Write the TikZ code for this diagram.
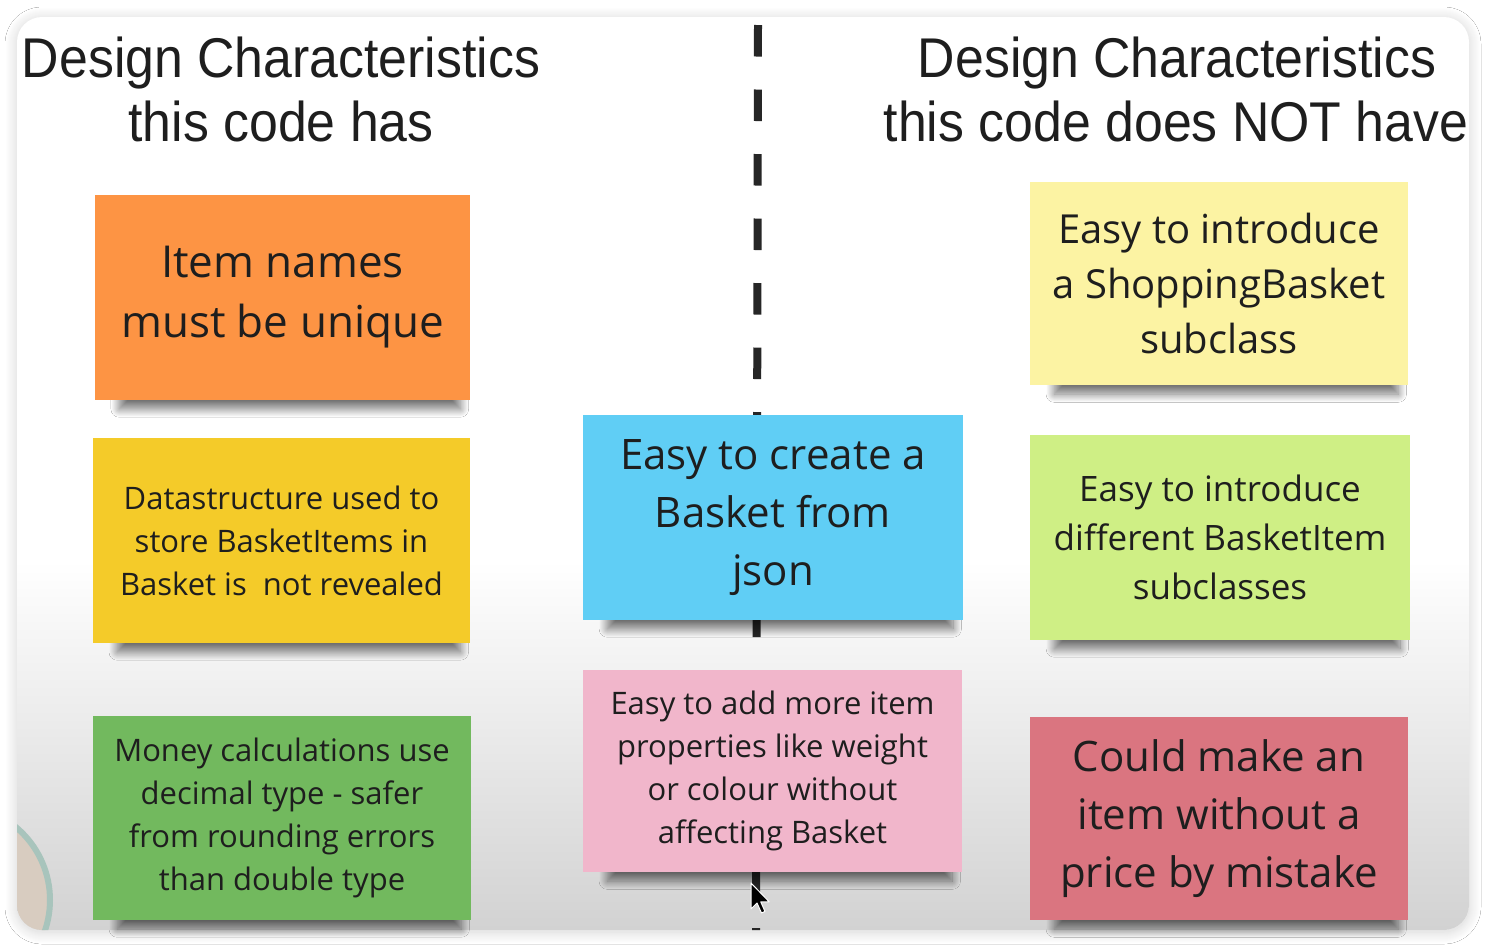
\documentclass[tikz,border=0pt]{standalone}
\usepackage{fontspec}
\setmainfont{Open Sans}
\newfontfamily\headfont[FakeStretch=0.925]{Liberation Sans}
\usetikzlibrary{shadows.blur}

\definecolor{ink}{HTML}{1E1E1E}
\definecolor{dashink}{HTML}{262626}
\definecolor{noteorange}{HTML}{FD9444}
\definecolor{notegold}{HTML}{F4CB29}
\definecolor{notegreen}{HTML}{72B95E}
\definecolor{noteblue}{HTML}{60CEF5}
\definecolor{notepink}{HTML}{F1B6CB}
\definecolor{notecream}{HTML}{FCF3A3}
\definecolor{notelime}{HTML}{CFEF85}
\definecolor{notered}{HTML}{DA7580}
\definecolor{floorgray}{HTML}{D2D2D2}
\definecolor{thumbfill}{HTML}{D8CCC0}
\definecolor{thumbring}{HTML}{A8C4BC}

\tikzset{
  heading/.style={inner sep=0pt, text=ink, font=\headfont\fontsize{56}{64}\selectfont},
  note/.style={rectangle, inner sep=0pt, text=ink, align=center,
    blur shadow={shadow xshift=8pt, shadow yshift=-20pt, shadow scale=0.91,
      shadow blur radius=9pt, shadow blur steps=25, shadow opacity=55}},
  divider/.style={line width=8pt, dashink, dash pattern=on 31.5pt off 33pt},
}

\begin{document}
\begin{tikzpicture}[x=1pt, y=-1pt]
\useasboundingbox (0,0) rectangle (1486,946);
\fill[white] (0,0) rectangle (1486,946);

% card with soft shadow
\fill[white, rounded corners=25pt,
  blur shadow={shadow xshift=0pt, shadow yshift=-2pt, shadow blur radius=12pt,
    shadow blur steps=25, shadow opacity=18}]
  (17,17) rectangle (1469,930);
\begin{scope}
  \clip[rounded corners=25pt] (17,17) rectangle (1469,930);
  \shade[top color=white, bottom color=floorgray] (17,560) rectangle (1469,930);
  % round thumbnail in the lower left corner
  \fill[thumbfill] (-45,900) circle[radius=95];
  \draw[line width=6pt, thumbring] (-45,900) circle[radius=95];
\end{scope}

% headings
\node[heading, anchor=base] (hl1) at (281,77) {Design Characteristics};
\node[heading, anchor=base] (hl2) at (281,141) {this code has};
\node[heading, anchor=base] (hr1) at (1177,77) {Design Characteristics};
\node[heading, anchor=base] (hr2) at (1176,141) {this code does NOT have};

% dashed divider
\coordinate (dtop) at (758,25);
\coordinate (dbot) at (756,930);
\draw[divider] (dtop) -- (dbot);

% left column
\node[note, fill=noteorange, minimum width=375pt, minimum height=205pt,
  font=\fontsize{44}{60}\selectfont] (unique) at (282.5,297.5)
  {Item names\\must be unique};
\node[note, fill=notegold, minimum width=377pt, minimum height=205pt,
  font=\fontsize{31}{43}\selectfont] (hidden) at (281.5,540.5)
  {Datastructure used to\\store BasketItems in\\Basket is\ \ not revealed};
\node[note, fill=notegreen, minimum width=378pt, minimum height=204pt,
  font=\fontsize{31}{43}\selectfont] (money) at (282,818)
  {Money calculations use\\decimal type - safer\\from rounding errors\\than double type};

% middle column
\node[note, fill=noteblue, minimum width=380pt, minimum height=205pt,
  font=\fontsize{42}{58}\selectfont] (json) at (773,517.5)
  {Easy to create a\\Basket from\\json};
\node[note, fill=notepink, minimum width=379pt, minimum height=202pt,
  font=\fontsize{31}{43}\selectfont] (props) at (772.5,771)
  {Easy to add more item\\properties like weight\\or colour without\\affecting Basket};

% right column
\node[note, fill=notecream, minimum width=378pt, minimum height=203pt,
  font=\fontsize{40}{55}\selectfont] (subbasket) at (1219,283.5)
  {Easy to introduce\\a ShoppingBasket\\subclass};
\node[note, fill=notelime, minimum width=380pt, minimum height=205pt,
  font=\fontsize{35}{49}\selectfont] (subitem) at (1220,537.5)
  {Easy to introduce\\different BasketItem\\subclasses};
\node[note, fill=notered, minimum width=378pt, minimum height=203pt,
  font=\fontsize{42}{58}\selectfont] (price) at (1219,818.5)
  {Could make an\\item without a\\price by mistake};

% mouse pointer
\fill[black, draw=white, line width=1pt, line join=round]
  (751,883) -- ++(0,26) -- ++(6,-6) -- ++(4.5,10) -- ++(3.5,-1.6) -- ++(-4.3,-9.6) -- ++(8.5,0) -- cycle;
\end{tikzpicture}
\end{document}
